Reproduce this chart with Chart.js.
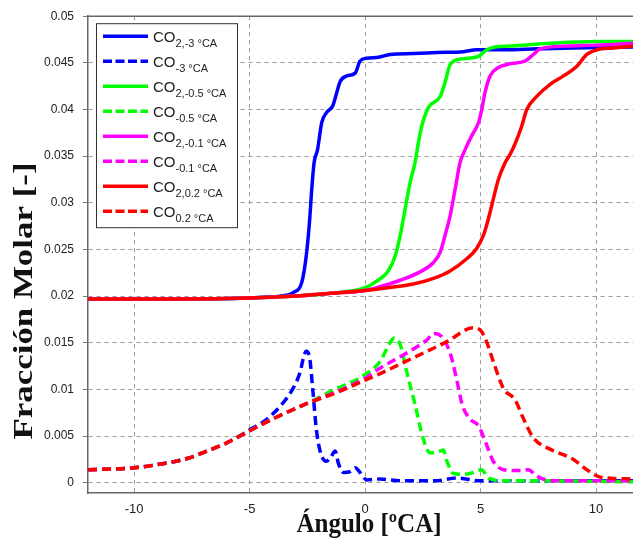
<!DOCTYPE html>
<html>
<head>
<meta charset="utf-8">
<script src="https://cdn.jsdelivr.net/npm/chart.js@4/dist/chart.umd.min.js"></script>
<style>
  html, body { margin: 0; padding: 0; background: #fff; }
  canvas { display: block; }
</style>
</head>
<body>
<canvas id="c" width="633" height="549"></canvas>
<script>
// Axis ticks
const xTickValues = [-10, -5, 0, 5, 10];
const yTickValues = [0, 0.005, 0.01, 0.015, 0.02, 0.025, 0.03, 0.035, 0.04, 0.045, 0.05];
const yTickLabels = ['0', '0.005', '0.01', '0.015', '0.02', '0.025', '0.03', '0.035', '0.04', '0.045', '0.05'];

// Legend subscripts (CO2 / CO at each injection timing)
const legendSubs = ['2,-3 °CA', '-3 °CA', '2,-0.5 °CA', '-0.5 °CA', '2,-0.1 °CA', '-0.1 °CA', '2,0.2 °CA', '0.2 °CA'];

// CO2, -3 °CA
const angCO2_m3  = [-12, -8, -5, -4.2, -3.7, -3.1, -2.74, -2.55, -2.41, -2.31, -2.21, -2.06, -1.88, -1.66, -1.40, -1.23, -1.08, -0.79, -0.43, -0.22, 0.07, 0.58, 1.08, 2.09, 3.10, 4.26, 4.83, 6.0, 7.43, 9.0, 11.6];
const fracCO2_m3 = [0.0197, 0.0197, 0.0198, 0.0199, 0.0200, 0.0204, 0.0215, 0.0243, 0.0279, 0.0315, 0.0343, 0.0357, 0.0386, 0.0397, 0.0404, 0.0418, 0.0430, 0.0436, 0.0439, 0.0452, 0.0455, 0.0456, 0.0459, 0.0460, 0.0461, 0.0462, 0.0464, 0.0464, 0.0465, 0.0466, 0.0467];

// CO, -3 °CA
const angCO_m3  = [-12, -10, -8.86, -7.71, -6.84, -5.97, -4.98, -4.26, -3.54, -3.10, -2.81, -2.67, -2.55, -2.41, -2.26, -2.12, -1.95, -1.69, -1.49, -1.30, -1.16, -0.94, -0.65, -0.43, -0.22, 0.07, 0.65, 1.52, 3.0, 4.0, 5.0, 7.0, 9.0, 11.6];
const fracCO_m3 = [0.0014, 0.0016, 0.0020, 0.0026, 0.0034, 0.0043, 0.0057, 0.0068, 0.0086, 0.0102, 0.0119, 0.0134, 0.0141, 0.0135, 0.0098, 0.0059, 0.0034, 0.0023, 0.0027, 0.0034, 0.0021, 0.0011, 0.0012, 0.0016, 0.0011, 0.0003, 0.0004, 0.0002, 0.0002, 0.0005, 0.0002, 0.0002, 0.0002, 0.0002];

// CO2, -0.5 °CA
const angCO2_m05  = [-12, -8, -5, -3, -1.5, 0, 0.5, 1.0, 1.30, 1.52, 1.73, 1.95, 2.16, 2.31, 2.45, 2.74, 3.25, 3.46, 3.68, 4.11, 4.91, 5.27, 5.63, 6.28, 8.0, 10.0, 11.6];
const fracCO2_m05 = [0.0197, 0.0197, 0.0198, 0.0200, 0.0203, 0.0209, 0.0216, 0.0227, 0.0243, 0.0265, 0.0293, 0.0322, 0.0343, 0.0365, 0.0382, 0.0402, 0.0414, 0.0429, 0.0448, 0.0454, 0.0457, 0.0464, 0.0467, 0.0468, 0.0471, 0.0473, 0.0473];

// CO, -0.5 °CA
const angCO_m05  = [-12, -10, -8.86, -7.71, -6.84, -5.97, -4.98, -3.95, -2.51, -1.4, 0, 0.65, 1.08, 1.27, 1.52, 1.8, 2.16, 2.52, 2.81, 3.25, 3.39, 3.53, 3.82, 4.26, 4.68, 5.04, 5.34, 6.13, 8.0, 11.6];
const fracCO_m05 = [0.0014, 0.0016, 0.0020, 0.0026, 0.0034, 0.0043, 0.0056, 0.0069, 0.0085, 0.0099, 0.0116, 0.0130, 0.0150, 0.0155, 0.0148, 0.0119, 0.0084, 0.0047, 0.0032, 0.0034, 0.0035, 0.0024, 0.0010, 0.0009, 0.0011, 0.0014, 0.0005, 0.0002, 0.0002, 0.0001];

// CO2, -0.1 °CA
const angCO2_m01  = [-12, -8, -5, -3, -1.5, 0, 0.65, 1.52, 2.38, 2.96, 3.25, 3.46, 3.68, 3.90, 4.11, 4.33, 4.62, 4.91, 5.05, 5.19, 5.41, 5.77, 6.28, 6.93, 7.29, 7.58, 8.73, 10.03, 11.6];
const fracCO2_m01 = [0.0197, 0.0197, 0.0198, 0.0200, 0.0203, 0.0206, 0.0210, 0.0217, 0.0226, 0.0236, 0.0247, 0.0265, 0.0286, 0.0315, 0.0343, 0.0357, 0.0372, 0.0386, 0.0400, 0.0418, 0.0436, 0.0445, 0.0449, 0.0452, 0.0459, 0.0465, 0.0468, 0.0469, 0.0471];

// CO, -0.1 °CA
const angCO_m01  = [-12, -10, -8.86, -7.71, -6.84, -5.97, -4.98, -3.95, -2.51, -1.2, 0, 0.65, 1.52, 2.2, 2.67, 2.96, 3.3, 3.68, 3.97, 4.2, 4.55, 4.91, 5.19, 5.55, 5.99, 6.71, 7.07, 7.43, 8.15, 11.6];
const fracCO_m01 = [0.0014, 0.0016, 0.0020, 0.0026, 0.0034, 0.0043, 0.0056, 0.0069, 0.0085, 0.0098, 0.0112, 0.0123, 0.0135, 0.0145, 0.0153, 0.0160, 0.0157, 0.0139, 0.0110, 0.0084, 0.0068, 0.0061, 0.0045, 0.0023, 0.0014, 0.0013, 0.0014, 0.0007, 0.0002, 0.0002];

// CO2, 0.2 °CA
const angCO2_p02  = [-12, -8, -5, -3, -1.5, 0, 0.65, 2.09, 2.96, 3.68, 4.40, 4.83, 5.12, 5.34, 5.55, 5.77, 6.06, 6.28, 6.49, 6.78, 7.0, 7.43, 8.01, 8.59, 9.16, 9.60, 10.03, 10.75, 11.6];
const fracCO2_p02 = [0.0197, 0.0197, 0.0198, 0.0200, 0.0203, 0.0206, 0.0208, 0.0213, 0.0219, 0.0227, 0.0240, 0.0251, 0.0265, 0.0283, 0.0304, 0.0325, 0.0343, 0.0352, 0.0363, 0.0382, 0.0400, 0.0414, 0.0427, 0.0436, 0.0446, 0.0459, 0.0464, 0.0466, 0.0468];

// CO, 0.2 °CA
const angCO_p02  = [-12, -10, -8.86, -7.71, -6.84, -5.97, -4.98, -3.95, -2.51, -1.2, 0, 0.65, 2.09, 3.53, 4.68, 4.97, 5.26, 5.55, 5.99, 6.49, 6.85, 7.29, 8.01, 9.02, 9.6, 10.18, 11.6];
const fracCO_p02 = [0.0014, 0.0016, 0.0020, 0.0026, 0.0034, 0.0043, 0.0056, 0.0069, 0.0085, 0.0097, 0.0110, 0.0117, 0.0134, 0.0151, 0.0166, 0.0164, 0.0151, 0.0130, 0.0101, 0.0089, 0.0069, 0.0048, 0.0036, 0.0025, 0.0014, 0.0006, 0.0004];

const series = [
  { xs: angCO2_m3,  ys: fracCO2_m3,  color: '#0000ff', dash: [] },
  { xs: angCO_m3,   ys: fracCO_m3,   color: '#0000ff', dash: [9, 5] },
  { xs: angCO2_m05, ys: fracCO2_m05, color: '#00ff00', dash: [] },
  { xs: angCO_m05,  ys: fracCO_m05,  color: '#00ff00', dash: [9, 5] },
  { xs: angCO2_m01, ys: fracCO2_m01, color: '#ff00ff', dash: [] },
  { xs: angCO_m01,  ys: fracCO_m01,  color: '#ff00ff', dash: [9, 5] },
  { xs: angCO2_p02, ys: fracCO2_p02, color: '#ff0000', dash: [] },
  { xs: angCO_p02,  ys: fracCO_p02,  color: '#ff0000', dash: [9, 5] }
];

const datasets = series.map((s, i) => ({
  label: 'CO' + legendSubs[i],
  data: s.xs.map((x, k) => ({ x: x, y: s.ys[k] })),
  borderColor: s.color,
  borderWidth: 3.5,
  borderDash: s.dash,
  pointRadius: 0,
  fill: false,
  cubicInterpolationMode: 'monotone',
  order: series.length - i
}));

// Draws text squeezed/stretched horizontally to a given width
function fitText(ctx, text, x, y, targetW) {
  const w = ctx.measureText(text).width;
  ctx.save();
  ctx.translate(x, y);
  ctx.scale(targetW / w, 1);
  ctx.fillText(text, 0, 0);
  ctx.restore();
}

const frameAndText = {
  id: 'frameAndText',
  afterDraw(chart) {
    const { ctx, chartArea: a } = chart;
    ctx.save();

    // top frame line
    ctx.strokeStyle = '#666';
    ctx.lineWidth = 1.5;
    ctx.setLineDash([]);
    ctx.beginPath();
    ctx.moveTo(a.left, a.top);
    ctx.lineTo(a.right, a.top);
    ctx.stroke();

    // legend box
    const bx = a.left + 8, by = a.top + 7, bw = 141, bh = 204;
    ctx.fillStyle = '#fff';
    ctx.fillRect(bx, by, bw, bh);
    ctx.strokeStyle = '#333';
    ctx.lineWidth = 1;
    ctx.strokeRect(bx + 0.5, by + 0.5, bw, bh);

    chart.data.datasets.forEach((ds, i) => {
      const ry = by + 13 + i * 25;
      ctx.strokeStyle = ds.borderColor;
      ctx.lineWidth = 3.5;
      ctx.setLineDash(ds.borderDash.length ? [9, 3.5] : []);
      ctx.beginPath();
      ctx.moveTo(bx + 7, ry);
      ctx.lineTo(bx + 52, ry);
      ctx.stroke();
      ctx.setLineDash([]);

      ctx.fillStyle = '#222';
      ctx.textBaseline = 'alphabetic';
      ctx.textAlign = 'left';
      ctx.font = '15px Arial, "Liberation Sans", sans-serif';
      const tx = bx + 57;
      ctx.fillText('CO', tx, ry + 6);
      const cw = ctx.measureText('CO').width;
      ctx.font = '11px Arial, "Liberation Sans", sans-serif';
      ctx.fillText(legendSubs[i], tx + cw, ry + 11);
    });

    // axis titles
    ctx.fillStyle = '#111';
    ctx.textAlign = 'left';
    ctx.textBaseline = 'middle';
    ctx.font = 'bold 28px "Liberation Serif", "Times New Roman", serif';
    const yTitle = 'Fracción Molar [-]';
    ctx.save();
    ctx.translate(25, 301);
    ctx.rotate(-Math.PI / 2);
    const yw = 277;
    fitText(ctx, yTitle, -yw / 2, 0, yw);
    ctx.restore();

    ctx.font = 'bold 27px "Liberation Serif", "Times New Roman", serif';
    const xTitle = 'Ángulo [ºCA]';
    const xw = 145;
    fitText(ctx, xTitle, 369 - xw / 2, 525, xw);

    ctx.restore();
  }
};

new Chart(document.getElementById('c'), {
  type: 'line',
  data: { datasets: datasets },
  plugins: [frameAndText],
  options: {
    responsive: false,
    animation: false,
    devicePixelRatio: 1,
    layout: { padding: { top: 15, right: 0, bottom: 0, left: 0 } },
    plugins: { legend: { display: false }, tooltip: { enabled: false } },
    scales: {
      x: {
        type: 'linear',
        min: -12,
        max: 11.6,
        afterBuildTicks: s => { s.ticks = xTickValues.map(v => ({ value: v })); },
        afterFit: s => { s.height = 56; },
        grid: { color: '#9a9a9a', lineWidth: 1, drawTicks: false },
        border: { display: true, color: '#666', width: 1.5, dash: [4, 4] },
        ticks: {
          padding: 9,
          color: '#222',
          font: { family: 'Arial, "Liberation Sans", sans-serif', size: 13 },
          maxRotation: 0,
          callback: v => String(v)
        }
      },
      y: {
        type: 'linear',
        min: -0.0011,
        max: 0.05,
        afterBuildTicks: s => { s.ticks = yTickValues.map(v => ({ value: v })); },
        afterFit: s => { s.width = 88; },
        grid: { color: '#9a9a9a', lineWidth: 1, drawTicks: true, tickLength: 5, tickColor: '#777', tickBorderDash: [] },
        border: { display: true, color: '#666', width: 1.5, dash: [4, 4] },
        ticks: {
          padding: 9,
          color: '#222',
          font: { family: 'Arial, "Liberation Sans", sans-serif', size: 12 },
          callback: (v) => {
            const k = yTickValues.indexOf(v);
            return k >= 0 ? yTickLabels[k] : '';
          }
        }
      }
    }
  }
});
</script>
</body>
</html>
